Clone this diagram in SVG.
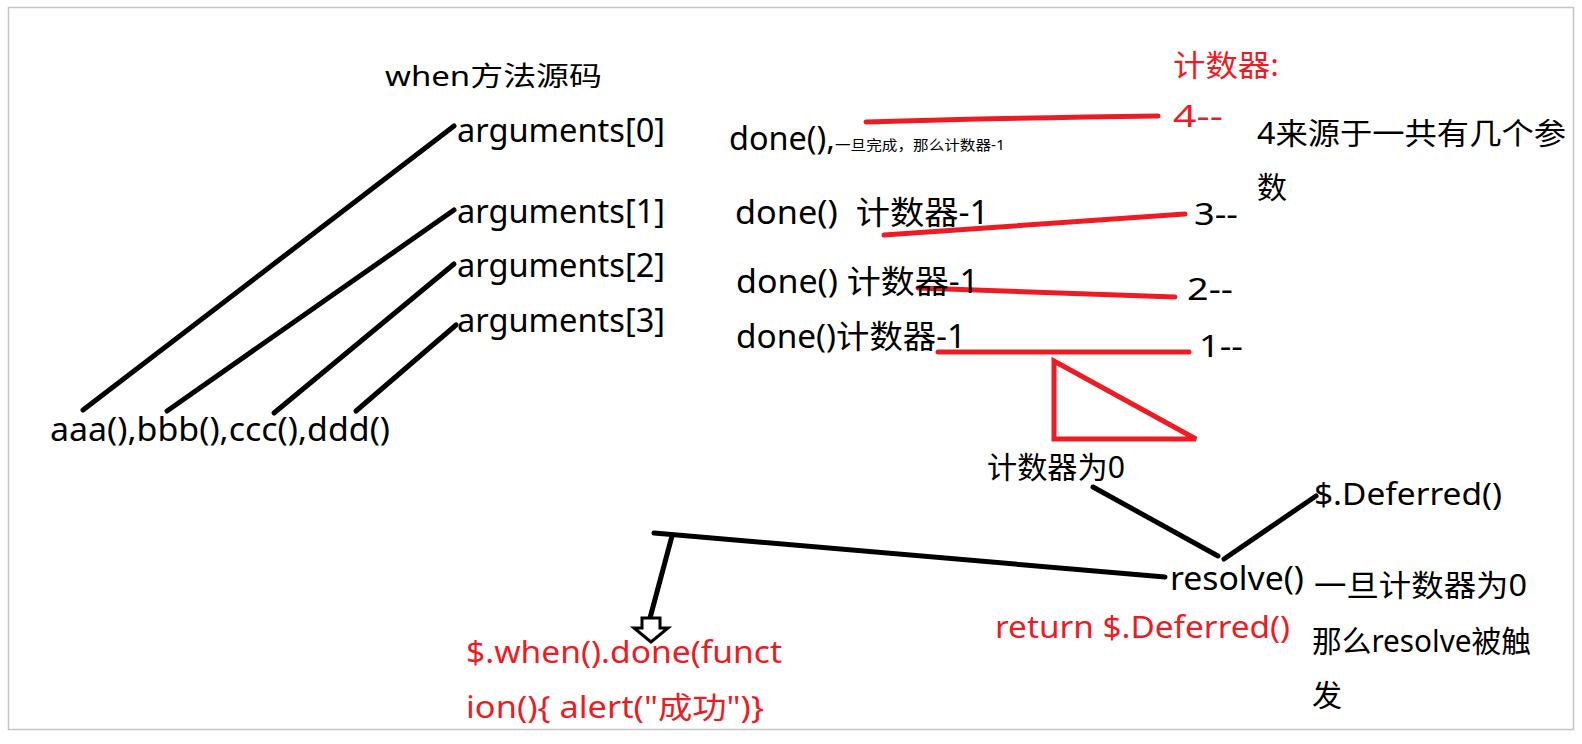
<svg xmlns="http://www.w3.org/2000/svg" width="1582" height="744" viewBox="0 0 1582 744">
<style>
text{font-family:"Noto Sans","Noto Sans CJK SC",sans-serif;fill:#000;white-space:pre}
.r{fill:#ED1C24}
.k{stroke:#000;stroke-width:5;stroke-linecap:round;fill:none}
.rl{stroke:#ED1C24;stroke-width:5;stroke-linecap:round;fill:none}
</style>
<rect x="0" y="0" width="1582" height="744" fill="#fff"/>
<rect x="8.5" y="7.5" width="1565" height="722" fill="none" stroke="#c6c6c6" stroke-width="1.5"/>
<g id="connectors">
<line class="k" x1="83" y1="410" x2="454" y2="126"/>
<line class="k" x1="167" y1="411" x2="454" y2="210"/>
<line class="k" x1="274" y1="413" x2="454" y2="264"/>
<line class="k" x1="356" y1="411" x2="456" y2="325"/>
<path class="rl" d="M866 122 Q1000 118 1158 116"/>
<line class="rl" x1="884" y1="235" x2="1185" y2="214"/>
<line class="rl" x1="918" y1="288" x2="1175" y2="297"/>
<line class="rl" x1="938" y1="352" x2="1189" y2="352"/>
<polygon class="rl" points="1054,361 1054,439 1196,439"/>
<line class="k" x1="1093" y1="487" x2="1218" y2="556"/>
<line class="k" x1="1224" y1="559" x2="1316" y2="496"/>
<line class="k" x1="654" y1="533" x2="1165" y2="577"/>
<line class="k" x1="672" y1="536" x2="650" y2="618"/>
<polygon points="642,618 660,618 660,628 668,628 651,642 634,628 642,628" fill="#fff" stroke="#000" stroke-width="3" stroke-linejoin="miter"/>
</g>
<g id="title"><text x="385" y="86" font-size="27" textLength="217" lengthAdjust="spacingAndGlyphs">when方法源码</text></g>
<g id="arg0"><text x="457" y="142" font-size="32" textLength="208" lengthAdjust="spacingAndGlyphs">arguments[0]</text></g>
<g id="arg1"><text x="457" y="223" font-size="32" textLength="208" lengthAdjust="spacingAndGlyphs">arguments[1]</text></g>
<g id="arg2"><text x="457" y="277" font-size="32" textLength="208" lengthAdjust="spacingAndGlyphs">arguments[2]</text></g>
<g id="arg3"><text x="457" y="332" font-size="32" textLength="208" lengthAdjust="spacingAndGlyphs">arguments[3]</text></g>
<g id="funcs"><text x="50" y="441" font-size="32" textLength="340" lengthAdjust="spacingAndGlyphs">aaa(),bbb(),ccc(),ddd()</text></g>
<g id="done0"><text x="729" y="150" font-size="32" textLength="106" lengthAdjust="spacingAndGlyphs">done(),</text><text x="835" y="150" font-size="14" textLength="170" lengthAdjust="spacingAndGlyphs">一旦完成，那么计数器-1</text></g>
<g id="done1"><text x="735" y="224" font-size="32" textLength="254" lengthAdjust="spacingAndGlyphs" xml:space="preserve">done()  计数器-1</text></g>
<g id="done2"><text x="736" y="293" font-size="32" textLength="243" lengthAdjust="spacingAndGlyphs">done() 计数器-1</text></g>
<g id="done3"><text x="736" y="348" font-size="32" textLength="230" lengthAdjust="spacingAndGlyphs">done()计数器-1</text></g>
<g id="counter"><text class="r" x="1173" y="76" font-size="30" textLength="106" lengthAdjust="spacingAndGlyphs">计数器:</text></g>
<g id="c4"><text class="r" x="1173" y="127" font-size="30" textLength="50" lengthAdjust="spacingAndGlyphs">4--</text></g>
<g id="note4"><text x="1257" y="144" font-size="30" textLength="309" lengthAdjust="spacingAndGlyphs">4来源于一共有几个参</text><text x="1257" y="198" font-size="30">数</text></g>
<g id="c3"><text x="1194" y="225" font-size="30" textLength="44" lengthAdjust="spacingAndGlyphs">3--</text></g>
<g id="c2"><text x="1187" y="300" font-size="30" textLength="46" lengthAdjust="spacingAndGlyphs">2--</text></g>
<g id="c1"><text x="1199" y="357" font-size="30" textLength="44" lengthAdjust="spacingAndGlyphs">1--</text></g>
<g id="zero"><text x="987" y="478" font-size="30" textLength="138" lengthAdjust="spacingAndGlyphs">计数器为0</text></g>
<g id="deferred"><text x="1314" y="505" font-size="30" textLength="188" lengthAdjust="spacingAndGlyphs">$.Deferred()</text></g>
<g id="resolve"><text x="1170" y="590" font-size="32" textLength="134" lengthAdjust="spacingAndGlyphs">resolve()</text></g>
<g id="note0"><text x="1314" y="596" font-size="30" textLength="213" lengthAdjust="spacingAndGlyphs">一旦计数器为0</text><text x="1312" y="652" font-size="30" textLength="219" lengthAdjust="spacingAndGlyphs">那么resolve被触</text><text x="1312" y="706" font-size="30">发</text></g>
<g id="ret"><text class="r" x="995" y="638" font-size="30" textLength="295" lengthAdjust="spacingAndGlyphs">return $.Deferred()</text></g>
<g id="when"><text class="r" x="466" y="663" font-size="30" textLength="316" lengthAdjust="spacingAndGlyphs">$.when().done(funct</text><text class="r" x="466" y="718" font-size="30" textLength="298" lengthAdjust="spacingAndGlyphs">ion(){ alert("成功")}</text></g>
</svg>
